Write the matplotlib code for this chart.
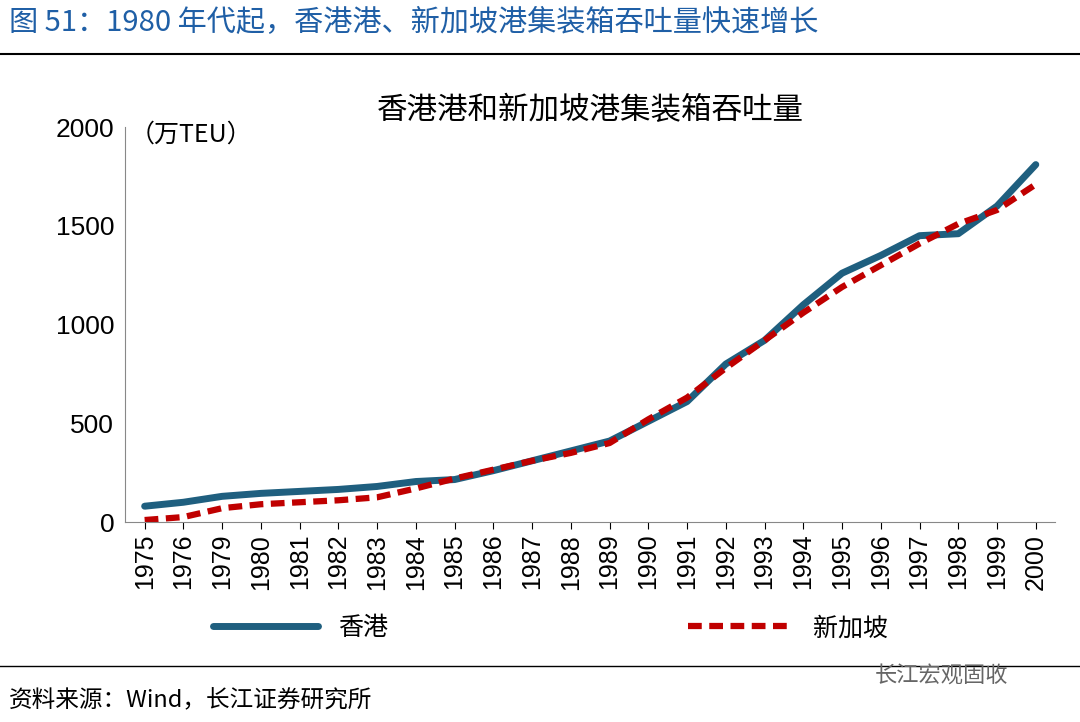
import matplotlib
matplotlib.use("Agg")
import matplotlib.pyplot as plt
from matplotlib.lines import Line2D

plt.rcParams['font.family'] = ['Noto Sans CJK SC', 'DejaVu Sans']

years = ['1975','1976','1979','1980','1981','1982','1983','1984','1985','1986','1987','1988',
         '1989','1990','1991','1992','1993','1994','1995','1996','1997','1998','1999','2000']
hk = [80,100,130,145,155,165,180,205,215,260,310,360,410,510,610,800,920,1100,1260,1350,1450,1460,1600,1810]
sg = [10,25,70,90,100,110,125,170,220,265,310,350,400,520,630,780,920,1060,1190,1300,1410,1510,1580,1710]

fig = plt.figure(figsize=(10.8, 7.22), dpi=100)
fig.text(0.008, 0.968, '图 51：1980 年代起，香港港、新加坡港集装箱吞吐量快速增长', color='#1f5fa6',
         fontsize=21, va='center', ha='left', fontweight='medium')
fig.add_artist(Line2D([0, 1], [0.925, 0.925], color='black', lw=1.5))
fig.add_artist(Line2D([0, 1], [0.077, 0.077], color='black', lw=1.0))
fig.text(0.008, 0.03, '资料来源：Wind，长江证券研究所', fontsize=17, va='center', ha='left')
fig.text(0.81, 0.063, '长江宏观固收', fontsize=16, color='#666666', va='center', ha='left')

ax = fig.add_axes([0.116, 0.277, 0.861, 0.547])
x = list(range(len(years)))
ax.plot(x, hk, color='#1f5f7f', lw=5, solid_capstyle='round', label='香港')
ax.plot(x, sg, color='#c00000', lw=4.5, ls=(0, (2.2, 1.2)), label='新加坡')
ax.set_xlim(-0.5, len(years) - 0.5)
ax.set_ylim(0, 2000)
ax.set_yticks([0, 500, 1000, 1500, 2000])
ax.set_xticks(x)
ax.set_xticklabels(years, rotation=90, fontsize=18, family='Liberation Sans')
ax.tick_params(axis='y', labelsize=19, length=0, pad=8)
for l in ax.get_yticklabels():
    l.set_family('Liberation Sans')
ax.tick_params(axis='x', length=5, direction='out')
for s in ['top', 'right']:
    ax.spines[s].set_visible(False)
ax.spines['left'].set_color('#888888')
ax.spines['bottom'].set_color('#888888')
ax.set_title('香港港和新加坡港集装箱吞吐量', fontsize=22, pad=6)
ax.text(0.005, 0.98, '（万TEU）', transform=ax.transAxes, fontsize=18, va='center', ha='left')
fig.legend(loc='center', bbox_to_anchor=(0.51, 0.13), ncol=2, frameon=False, fontsize=18,
           handlelength=4.2, columnspacing=12)
fig.savefig('out.png', dpi=100)
